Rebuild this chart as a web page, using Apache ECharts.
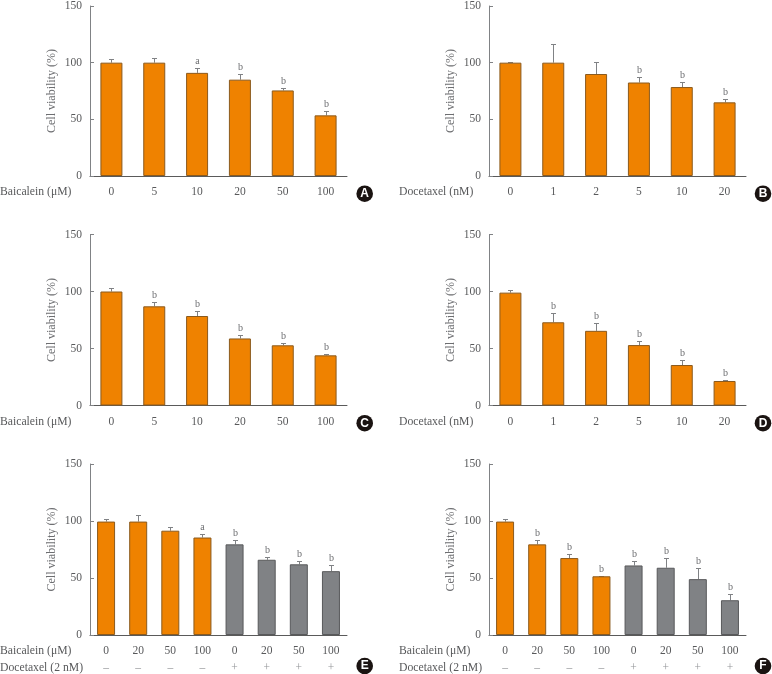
<!DOCTYPE html>
<html><head><meta charset="utf-8">
<style>html,body{margin:0;padding:0;background:#fff}#c{width:772px;height:674px}</style>
<script src="https://cdn.jsdelivr.net/npm/echarts@6/dist/echarts.min.js"></script>
</head><body><div id="c"></div>
<script>
const baicaleinCats=['0','5','10','20','50','100'];
const docetaxelCats=['0','1','2','5','10','20'];
const comboBaicalein=['0','20','50','100','0','20','50','100'];
const comboDocetaxel=['–','–','–','–','+','+','+','+'];
const yTicks=[0,50,100,150];

const valuesA=[100,100,91,85,75.5,53.5];
const errTopA=[103.5,104.5,95.5,90,78,57.5];
const sigA=['','','a','b','b','b'];
const valuesB=[100,100,90,82.5,78.5,65];
const errTopB=[100.5,116.5,100.5,87.5,82.5,68];
const sigB=['','','','b','b','b'];
const valuesC=[100,87,78.5,58.8,52.8,44];
const errTopC=[103.5,90.5,82.5,61.5,54.5,45];
const sigC=['','b','b','b','b','b'];
const valuesD=[99,73,65.5,53,35.5,21.5];
const errTopD=[101,81.5,72,56.5,40,22];
const sigD=['','b','b','b','b','b'];
const valuesE=[99.5,99.5,91.5,85.5,79.5,66,62,56];
const errTopE=[102,105,95,89,83,68.5,64.5,61];
const sigE=['','','','a','b','b','b','b'];
const valuesF=[99.5,79.5,67.5,51.5,61,59,49,30.5];
const errTopF=[102,83,71,52,65,67.5,58.5,36];
const sigF=['','b','b','b','b','b','b','b'];

const SERIF='"Liberation Serif","Times New Roman",serif';
const TXT='#58595b', ORANGE='#ef8200', OB='#8a5a1e', GREY='#808285', GB='#58595b';

const panels=[
 {id:'A',left:90,top:5,v:valuesA,e:errTopA,s:sigA,c:baicaleinCats,row:'Baicalein (μM)'},
 {id:'B',left:489,top:5,v:valuesB,e:errTopB,s:sigB,c:docetaxelCats,row:'Docetaxel (nM)'},
 {id:'C',left:90,top:234.5,v:valuesC,e:errTopC,s:sigC,c:baicaleinCats,row:'Baicalein (μM)'},
 {id:'D',left:489,top:234.5,v:valuesD,e:errTopD,s:sigD,c:docetaxelCats,row:'Docetaxel (nM)'},
 {id:'E',left:90,top:464,v:valuesE,e:errTopE,s:sigE,c:comboBaicalein,row:'Baicalein (μM)',row2:'Docetaxel (2 nM)',d:comboDocetaxel},
 {id:'F',left:489,top:464,v:valuesF,e:errTopF,s:sigF,c:comboBaicalein,row:'Baicalein (μM)',row2:'Docetaxel (2 nM)',d:comboDocetaxel}
];
const W=257,H=171;
const grid=[],xAxis=[],yAxis=[],series=[],graphic=[];
panels.forEach((p,k)=>{
  grid.push({left:p.left,top:p.top,width:W,height:H,containLabel:false});
  const xi=xAxis.length;
  xAxis.push({type:'category',gridIndex:k,data:p.c,
    axisLine:{lineStyle:{color:'#5a5a5a',width:1}},axisTick:{show:false},
    axisLabel:{interval:0,margin:10,fontFamily:SERIF,fontSize:11.5,color:TXT}});
  if(p.d){
    xAxis.push({type:'category',gridIndex:k,position:'bottom',offset:17,data:p.d,
      axisLine:{show:false},axisTick:{show:false},
      axisLabel:{interval:0,margin:10,fontFamily:SERIF,fontSize:11.5,color:'#939598'}});
  }
  yAxis.push({type:'value',gridIndex:k,min:0,max:150,interval:50,
    name:'Cell viability (%)',nameLocation:'middle',nameGap:32,
    nameTextStyle:{fontFamily:SERIF,fontSize:12,color:'#6d6e71'},
    axisLine:{show:true,lineStyle:{color:'#808285',width:1}},
    axisTick:{show:true,inside:true,length:4,lineStyle:{color:'#808285'}},
    splitLine:{show:false},
    axisLabel:{margin:8,fontFamily:SERIF,fontSize:11.5,color:TXT,
      formatter:v=>yTicks.includes(v)?String(v):''}});
  const barW=p.c.length===6?22:18;
  series.push({type:'bar',xAxisIndex:xi,yAxisIndex:k,barWidth:barW,z:3,
    data:p.v.map((v,i)=>{
      const gray=p.d&&p.d[i]==='+';
      return {value:v,itemStyle:{color:gray?GREY:ORANGE,borderColor:gray?GB:OB,borderWidth:1}};
    })});
  series.push({type:'custom',xAxisIndex:xi,yAxisIndex:k,z:2,clip:false,
    encode:{x:0,y:2},
    data:p.v.map((v,i)=>[i,v,p.e[i]]),
    renderItem:(params,api)=>{
      const b=api.coord([api.value(0),api.value(1)]);
      const t=api.coord([api.value(0),api.value(2)]);
      const x=Math.round(b[0])+0.5,yb=b[1],yt=Math.round(t[1])+0.5;
      const st={stroke:GREY,lineWidth:1,fill:null};
      const kids=[
        {type:'line',shape:{x1:x,y1:yb,x2:x,y2:yt},style:st},
        {type:'line',shape:{x1:x-2.5,y1:yt,x2:x+2.5,y2:yt},style:st}
      ];
      const s=p.s[params.dataIndex];
      if(s)kids.push({type:'text',style:{text:s,x:x,y:yt-7.5,align:'center',verticalAlign:'middle',
        fill:'#6d6e71',font:'10px '+SERIF}});
      return {type:'group',children:kids};
    }});
  const labelX=p.left-90;
  graphic.push({type:'text',left:labelX,top:p.top+H+10,style:{text:p.row,font:'11.7px '+SERIF,fill:TXT}});
  if(p.row2)graphic.push({type:'text',left:labelX,top:p.top+H+27,style:{text:p.row2,font:'11.7px '+SERIF,fill:TXT}});
  const cx=p.left>300?763:364.7, cy=p.top+H+(p.row2?31:17.7);
  graphic.push({type:'circle',shape:{cx:cx,cy:cy,r:8.3},style:{fill:'#1a1311'},z:10});
  graphic.push({type:'text',z:11,style:{text:p.id,x:cx,y:cy,align:'center',verticalAlign:'middle',
    font:'bold 12px "Liberation Sans",Arial,sans-serif',fill:'#fff'}});
});
const chart=echarts.init(document.getElementById('c'),null,{renderer:'canvas'});
chart.setOption({animation:false,backgroundColor:'#fff',tooltip:{show:false},grid,xAxis,yAxis,series,graphic});
</script></body></html>
